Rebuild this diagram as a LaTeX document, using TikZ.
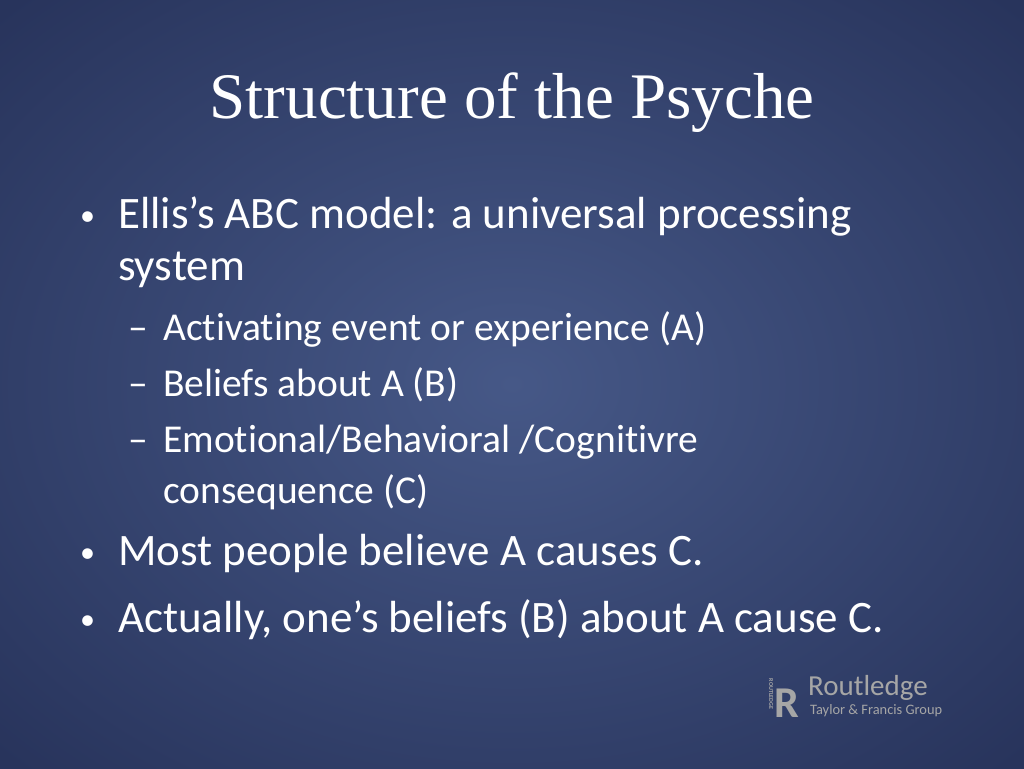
\documentclass[tikz,border=0pt]{standalone}
\usepackage{fontspec}
\setmainfont{Carlito}[Ligatures={NoCommon}]
\newfontfamily\titlefont{Liberation Serif}
\begin{document}
\begin{tikzpicture}[x=1pt,y=-1pt,
  txt/.style={text=white,anchor=base west,inner sep=0pt},
  lvlone/.style={txt,font=\fontsize{45}{50}\selectfont},
  lvltwo/.style={txt,font=\fontsize{39.5}{44}\selectfont},
  bul/.style={txt,font=\fontsize{30}{30}\selectfont},
  logo/.style={text=gray!70,anchor=base west,inner sep=0pt}]
\useasboundingbox (0,0) rectangle (1024,768);
\fill[inner color={rgb,255:red,70;green,88;blue,135},outer color={rgb,255:red,40;green,52;blue,92}] (-200,-150) rectangle (1224,918);
\node[txt,anchor=base,font=\titlefont\fontsize{65}{70}\selectfont] (title) at (512,118) {Structure of the Psyche};
\node[bul] (b1) at (80,225) {•};
\node[lvlone] (t1) at (118,228) {Ellis’s ABC model: a universal processing};
\node[lvlone] (t1b) at (118,280) {system};
\node[lvltwo] (d1) at (128,340) {–};
\node[lvltwo] (s1) at (163,340) {Activating event or experience (A)};
\node[lvltwo] (d2) at (128,396) {–};
\node[lvltwo] (s2) at (163,396) {Beliefs about A (B)};
\node[lvltwo] (d3) at (128,452) {–};
\node[lvltwo] (s3) at (163,452) {Emotional/Behavioral /Cognitivre};
\node[lvltwo] (s3b) at (163,503) {consequence (C)};
\node[bul] (b2) at (80,562) {•};
\node[lvlone] (t2) at (118,565) {Most people believe A causes C.};
\node[bul] (b3) at (80,629) {•};
\node[lvlone] (t3) at (118,632) {Actually, one’s beliefs (B) about A cause C.};
% logo
\node[logo,font=\fontsize{44}{44}\selectfont\bfseries] (R) at (774,717) {R};
\node[text=gray!70,rotate=-90,font=\fontsize{6}{6}\selectfont\bfseries,inner sep=0pt] (rl) at (771,694) {ROUTLEDGE};
\node[logo,font=\fontsize{29}{29}\selectfont] (rt) at (808,695) {Routledge};
\node[logo,font=\fontsize{14.4}{14.4}\selectfont] (tf) at (810,714) {Taylor \& Francis Group};
\end{tikzpicture}
\end{document}
